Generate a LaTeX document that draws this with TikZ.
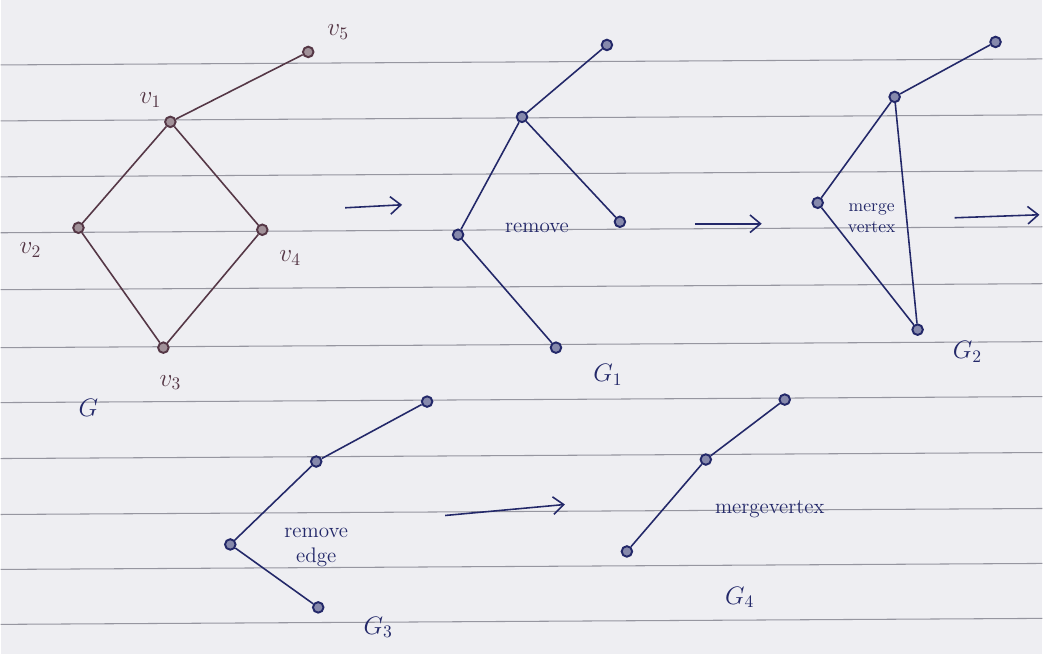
\documentclass[tikz,border=0pt]{standalone}
\usetikzlibrary{arrows.meta}
\definecolor{paper}{RGB}{238,238,242}
\definecolor{rule}{RGB}{150,150,160}
\definecolor{pencil}{RGB}{85,55,70}
\definecolor{ink}{RGB}{35,40,105}
\begin{document}
\begin{tikzpicture}[x=0.02cm,y=-0.02cm,
  vtx/.style={circle,draw=#1,fill=#1!55,line width=1.1pt,inner sep=0pt,minimum size=6pt},
  edge/.style={draw=#1,line width=0.9pt},
  lbl/.style={text=#1,font=\Large\itshape},
  note/.style={text=ink,font=\large,align=center,inner sep=1pt},
  arr/.style={draw=#1,line width=0.9pt,-{Straight Barb[length=6pt,width=10pt]}}]
\fill[paper] (0,0) rectangle (1043,655);
\foreach \y in {62,118,174,230,287,345,400,456,512,567,622}
  \draw[rule,line width=0.6pt] (0,\y+3) -- (1043,\y-3);
% G
\node[vtx=pencil] (v5) at (308,52) {};
\node[vtx=pencil] (v1) at (170,122) {};
\node[vtx=pencil] (v2) at (78,228) {};
\node[vtx=pencil] (v4) at (262,230) {};
\node[vtx=pencil] (v3) at (163,348) {};
\draw[edge=pencil] (v1) -- (v5);
\draw[edge=pencil] (v1) -- (v2) -- (v3) -- (v4) -- (v1);
\node[lbl=pencil] at (338,32) {$v_5$};
\node[lbl=pencil] at (150,100) {$v_1$};
\node[lbl=pencil] at (30,250) {$v_2$};
\node[lbl=pencil] at (290,258) {$v_4$};
\node[lbl=pencil] at (170,383) {$v_3$};
\node[lbl=ink] at (88,408) {$G$};
\coordinate (a1s) at (345,208); \coordinate (a1e) at (402,205);
\draw[arr=ink] (a1s) -- (a1e);
% G1
\node[vtx=ink] (a) at (607,45) {};
\node[vtx=ink] (b) at (522,117) {};
\node[vtx=ink] (c) at (458,235) {};
\node[vtx=ink] (d) at (620,222) {};
\node[vtx=ink] (e) at (556,348) {};
\draw[edge=ink] (a) -- (b) -- (c) -- (e);
\draw[edge=ink] (b) -- (d);
\node[note] at (537,228) {remove};
\node[lbl=ink] at (608,375) {$G_1$};
\coordinate (a2s) at (695,224); \coordinate (a2e) at (762,224);
\draw[arr=ink] (a2s) -- (a2e);
% G2
\node[vtx=ink] (f) at (996,42) {};
\node[vtx=ink] (g) at (895,97) {};
\node[vtx=ink] (h) at (818,203) {};
\node[vtx=ink] (i) at (918,330) {};
\draw[edge=ink] (f) -- (g) -- (h) -- (i) -- (g);
\node[note,font=\normalsize,inner sep=0pt] at (872,218) {merge\\vertex};
\node[lbl=ink] at (968,352) {$G_2$};
\coordinate (a3s) at (955,218); \coordinate (a3e) at (1040,215);
\draw[arr=ink] (a3s) -- (a3e);
% G3
\node[vtx=ink] (j) at (427,402) {};
\node[vtx=ink] (k) at (316,462) {};
\node[vtx=ink] (l) at (230,545) {};
\node[vtx=ink] (m) at (318,608) {};
\draw[edge=ink] (j) -- (k) -- (l) -- (m);
\node[note,inner sep=0pt] at (316,548) {remove\\edge};
\node[lbl=ink] at (378,628) {$G_3$};
\coordinate (a4s) at (445,516); \coordinate (a4e) at (565,505);
\draw[arr=ink] (a4s) -- (a4e);
% G4
\node[vtx=ink] (n) at (785,400) {};
\node[vtx=ink] (o) at (706,460) {};
\node[vtx=ink] (p) at (627,552) {};
\draw[edge=ink] (n) -- (o) -- (p);
\node[note] at (770,510) {mergevertex};
\node[lbl=ink] at (740,598) {$G_4$};
\end{tikzpicture}
\end{document}
